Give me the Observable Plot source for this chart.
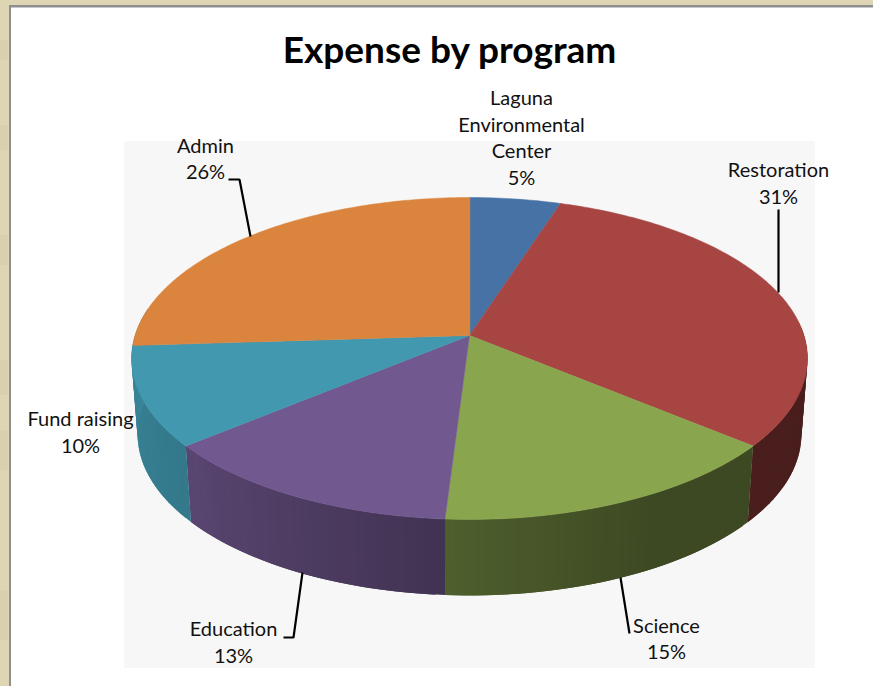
<!DOCTYPE html>
<html>
<head>
<meta charset="utf-8">
<script src="https://cdn.jsdelivr.net/npm/d3@7"></script>
<script src="https://cdn.jsdelivr.net/npm/@observablehq/plot@0.6"></script>
<style>html,body{margin:0;padding:0;background:#ded5b4;overflow:hidden}svg{display:block}</style>
</head>
<body>
<div id="chart"></div>
<script>
// ---- data ----
const categories = ["Laguna Environmental Center", "Restoration", "Science", "Education", "Fund raising", "Admin"];
const shares = [5, 31, 15, 13, 10, 26];
const labelLines = ["Laguna\nEnvironmental\nCenter\n5%", "Restoration\n31%", "Science\n15%", "Education\n13%", "Fund raising\n10%", "Admin\n26%"];
const sliceColors = ["#4672a5", "#a74543", "#89a54e", "#71588f", "#4198af", "#db843d"];

// ---- layout (screen units of the x/y scales) ----
const W = 873, H = 686;
const centre = {x: 469, y: 335}, radius = {x: 334.5, y: 157.7}, persp = 1 / 7;
const wall = {drop: 76, shrink: 0.982};
const labelX = [521, 778, 666, 233, 80, 205];
const labelY = [138, 183.5, 639, 642.5, 432.5, 159];
const leaderPaths = [
  [[228, 179], [239, 179], [250, 236]],
  [[778, 209], [778, 292]],
  [[302, 572], [293, 637], [283, 637]],
  [[620, 577], [629, 633]]
];
// wall brightness by clock angle (degrees from 12 o'clock)
const shadeAngle = [85, 130, 150, 183, 205, 230, 270, 280];
const shadeValue = [0.43, 0.44, 0.44, 0.57, 0.68, 0.79, 0.87, 0.87];
const tanBands = [[0, 8, 40, 60], [0, 8, 125, 150], [0, 8, 235, 265], [0, 8, 360, 395], [0, 8, 430, 470], [0, 8, 590, 640]];

// ---- geometry ----
const rad = d => d * Math.PI / 180;
function rim(deg) {
  const u = Math.sin(rad(deg)), v = Math.cos(rad(deg)), w = 1 + persp * v;
  return {x: centre.x + radius.x * u / w, y: centre.y - radius.y * v / w};
}
function lowerRim(deg) {
  const p = rim(deg);
  return {x: centre.x + (p.x - centre.x) * wall.shrink, y: p.y + wall.drop};
}
const shade = d3.scaleLinear().domain(shadeAngle).range(shadeValue).clamp(true);
function dim(color, k) {
  const c = d3.rgb(color);
  return d3.rgb(c.r * k, c.g * k, c.b * k).formatHex();
}

let cumulative = 0;
const tops = [], walls = [];
categories.forEach((name, i) => {
  const a0 = cumulative * 3.6, a1 = (cumulative + shares[i]) * 3.6;
  cumulative += shares[i];
  // top face
  tops.push({id: name, color: sliceColors[i], ...centre});
  const n = Math.max(2, Math.ceil(a1 - a0));
  d3.range(n + 1).forEach(j => {
    tops.push({id: name, color: sliceColors[i], ...rim(a0 + (a1 - a0) * j / n)});
  });
  // front wall, as overlapping shaded strips; the last visible slice wraps round to the silhouette
  if (a0 >= 260) return;
  const lo = Math.max(a0, 85), hi = a1 > 260 ? 280 : a1;
  for (let a = lo; a < hi; a += 1.5) {
    const b = Math.min(a + 3, hi), id = name + a;
    const color = dim(sliceColors[i], shade(a + 0.75));
    [rim(a), rim(b), lowerRim(b), lowerRim(a)].forEach(p => walls.push({id, color, ...p}));
  }
});

const labels = categories.map((name, i) => ({text: labelLines[i], x: labelX[i], y: labelY[i] - 2}));
const leaders = leaderPaths.flatMap((path, id) => path.map(([x, y]) => ({id, x, y})));

const fontFamily = "Lato, 'Open Sans', sans-serif";
const chart = Plot.plot({
  width: W, height: H, margin: 0,
  style: {background: "#ded5b4", fontFamily},
  x: {domain: [0, W], range: [0, W], axis: null},
  y: {domain: [0, H], range: [0, H], axis: null},
  color: {type: "identity"},
  marks: [
    Plot.rect(tanBands, {x1: d => d[0], x2: d => d[1], y1: d => d[2], y2: d => d[3], fill: "#dacfae"}),
    Plot.rect([0], {x1: 9, x2: W, y1: 5, y2: H, fill: "#8f8f8f"}),
    Plot.rect([0], {x1: 11, x2: W, y1: 7.5, y2: H, fill: "#ffffff"}),
    Plot.rect([0], {x1: 124, x2: 815, y1: 141, y2: 668, fill: "#f7f7f7"}),
    Plot.line(walls, {x: "x", y: "y", z: "id", fill: "color", curve: "linear-closed", strokeWidth: 0}),
    Plot.line(tops, {x: "x", y: "y", z: "id", fill: "color", stroke: "color", strokeWidth: 0.5, curve: "linear-closed"}),
    Plot.line(leaders, {x: "x", y: "y", z: "id", stroke: "#000", strokeWidth: 2.2, strokeLinejoin: "miter", strokeLinecap: "butt"}),
    Plot.text(labels, {x: "x", y: "y", text: "text", fontSize: 20, lineHeight: 1.34, fill: "#111", textAnchor: "middle"}),
    Plot.text(["Expense by program"], {x: 449, y: 51, fontSize: 37, fontWeight: 700, fill: "#000", textAnchor: "middle"})
  ]
});
document.getElementById("chart").append(chart);
</script>
</body>
</html>
